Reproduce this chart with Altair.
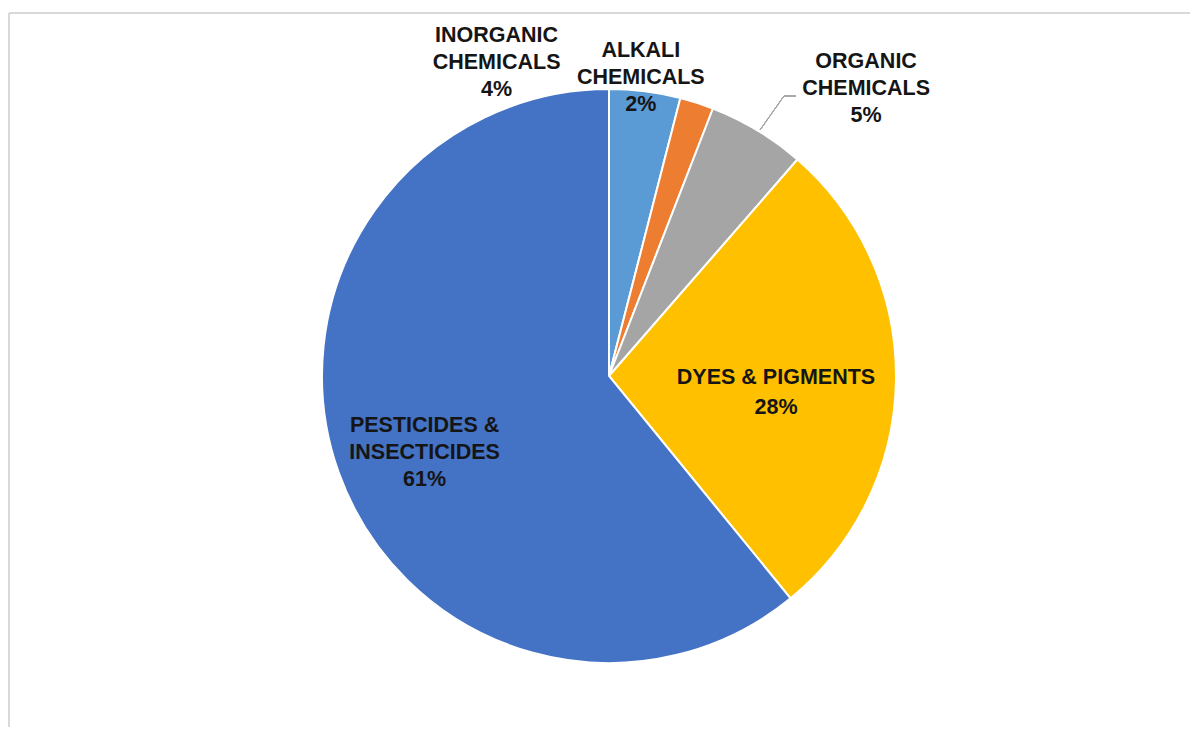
import altair as alt
import pandas as pd

# ---- data ----
categories = ["INORGANIC CHEMICALS", "ALKALI CHEMICALS", "ORGANIC CHEMICALS",
              "DYES & PIGMENTS", "PESTICIDES & INSECTICIDES"]
values = [4.0, 1.9, 5.5, 27.7, 60.9]
pct_labels = ["4%", "2%", "5%", "28%", "61%"]
name_lines = [["INORGANIC", "CHEMICALS"], ["ALKALI", "CHEMICALS"], ["ORGANIC", "CHEMICALS"],
              ["DYES & PIGMENTS"], ["PESTICIDES  &", "INSECTICIDES"]]
colors = ["#5B9BD5", "#ED7D31", "#A5A5A5", "#FFC000", "#4472C4"]

df = pd.DataFrame({
    "category": categories,
    "value": values,
    "order": list(range(len(categories))),
    "label": [lines + [p] for lines, p in zip(name_lines, pct_labels)],
})

total = sum(values)
CX, CY, R = 601, 368, 287
FONT = "Liberation Sans"

base = alt.Chart(df)

color = alt.Color("category:N", scale=alt.Scale(domain=categories, range=colors), legend=None)

pie = base.mark_arc(radius=R, stroke="white", strokeWidth=2).encode(
    theta=alt.Theta("value:Q", stack=True, scale=alt.Scale(domain=[0, total])),
    order=alt.Order("order:Q"),
    color=color,
    x=alt.value(CX),
    y=alt.value(CY),
)

# label placement (radius, dx, dy, lineHeight) per slice, mimicking the reference layout
placement = {
    "INORGANIC CHEMICALS": (300, -150, -42, 27),
    "ALKALI CHEMICALS": (300, -60, -39, 27),
    "ORGANIC CHEMICALS": (300, 102, -57, 27),
    "DYES & PIGMENTS": (167, 0, -1, 30),
    "PESTICIDES & INSECTICIDES": (200, 4, -17, 27),
}

label_base = base.transform_window(
    cum="sum(value)", sort=[alt.SortField("order")], frame=[None, 0]
).transform_calculate(mid="datum.cum - datum.value / 2")

label_layers = []
for cat in categories:
    r, dx, dy, lh = placement[cat]
    label_layers.append(
        label_base.transform_filter(alt.datum.category == cat).mark_text(
            radius=r, dx=dx, dy=dy, font=FONT, fontSize=21.5, fontWeight="bold",
            color="#151515", lineHeight=lh, align="center", baseline="middle"
        ).encode(
            theta=alt.Theta("mid:Q", stack=None, scale=alt.Scale(domain=[0, total])),
            text="label",
            x=alt.value(CX),
            y=alt.value(CY),
        )
    )

# leader line for the organic chemicals label
lead1 = base.mark_rule(color="#a6a6a6", strokeWidth=1).encode(
    x=alt.value(752), y=alt.value(122), x2=alt.value(776), y2=alt.value(88))
lead2 = base.mark_rule(color="#a6a6a6", strokeWidth=1).encode(
    x=alt.value(776), y=alt.value(88), x2=alt.value(788), y2=alt.value(88))

H = 719
# chart frame (top and left edges visible in the reference)
frame_top = base.mark_rule(color="#d9d9d9", strokeWidth=2).encode(
    x=alt.value(1), x2=alt.value(1182), y=alt.value(5))
frame_left = base.mark_rule(color="#d9d9d9", strokeWidth=2).encode(
    x=alt.value(1), y=alt.value(5), y2=alt.value(H))

chart = alt.layer(frame_top, frame_left, pie, lead1, lead2, *label_layers).properties(
    width=1182, height=H, autosize=alt.AutoSizeParams(type="none"), padding=0,
    background="white"
).configure_view(stroke=None)

chart.save("out.html", embed_options={"renderer": "svg", "actions": False})
